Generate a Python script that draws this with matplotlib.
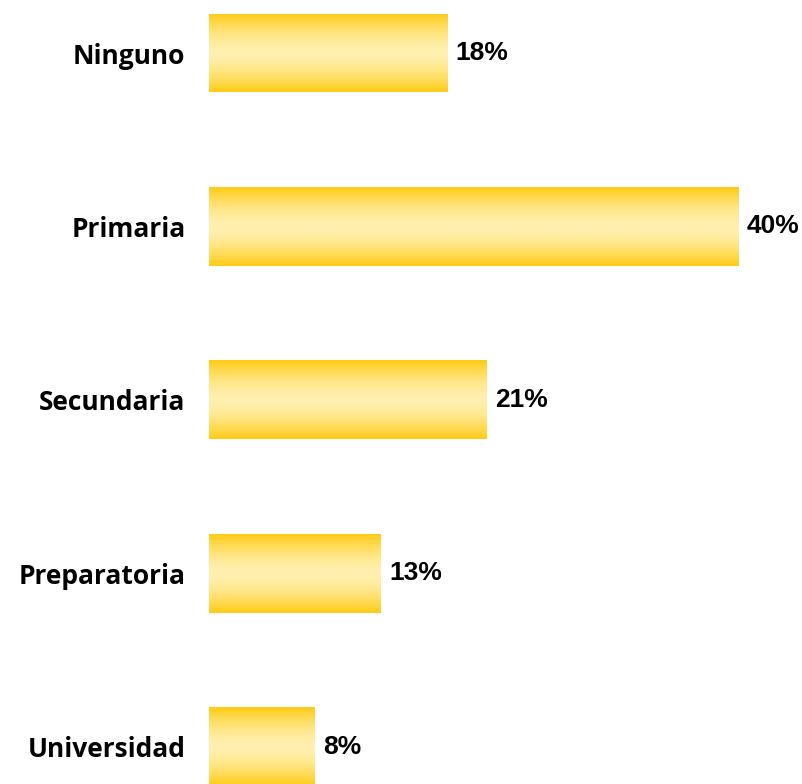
import numpy as np
import matplotlib.pyplot as plt
from matplotlib.colors import LinearSegmentedColormap

categories = ["Ninguno", "Primaria", "Secundaria", "Preparatoria", "Universidad"]
values = [18, 40, 21, 13, 8]
value_labels = ["18%", "40%", "21%", "13%", "8%"]

GOLD = "#FFCB14"
LIGHT = "#FFF0B0"
grad_cmap = LinearSegmentedColormap.from_list("bar_grad", [LIGHT, GOLD])

fig = plt.figure(figsize=(8.02, 7.84), dpi=100)
ax = fig.add_axes([209 / 802, 0, 529 / 802, 1])

y = np.arange(len(categories))
bars = ax.barh(y, values, height=0.455, color="none", edgecolor="none")

ax.set_xlim(0, 40)
ax.set_ylim(4.216, -0.306)

# vertical gradient fill (gold edges, pale middle), clipped to each bar
t = np.linspace(-1, 1, 256)
grad = (np.abs(t) ** 1.6).reshape(-1, 1)
for b in bars:
    x0, y0 = b.get_x(), b.get_y()
    w, h = b.get_width(), b.get_height()
    im = ax.imshow(grad, cmap=grad_cmap, vmin=0, vmax=1, aspect="auto",
                   extent=(x0, x0 + w, y0 + h, y0), interpolation="bilinear", zorder=1)
    im.set_clip_path(b)

for b, lab in zip(bars, value_labels):
    ax.annotate(lab, (b.get_width(), b.get_y() + b.get_height() / 2),
                xytext=(6, 0), textcoords="offset points", ha="left", va="center",
                fontsize=19, fontweight="bold", family="Liberation Sans", color="black",
                annotation_clip=False)

ax.set_yticks(y)
ax.set_yticklabels(categories, fontsize=19, fontweight="bold", family="Open Sans")
ax.tick_params(axis="y", length=0, pad=17)
ax.set_xticks([])
for s in ax.spines.values():
    s.set_visible(False)

fig.savefig("out.png", dpi=100)
